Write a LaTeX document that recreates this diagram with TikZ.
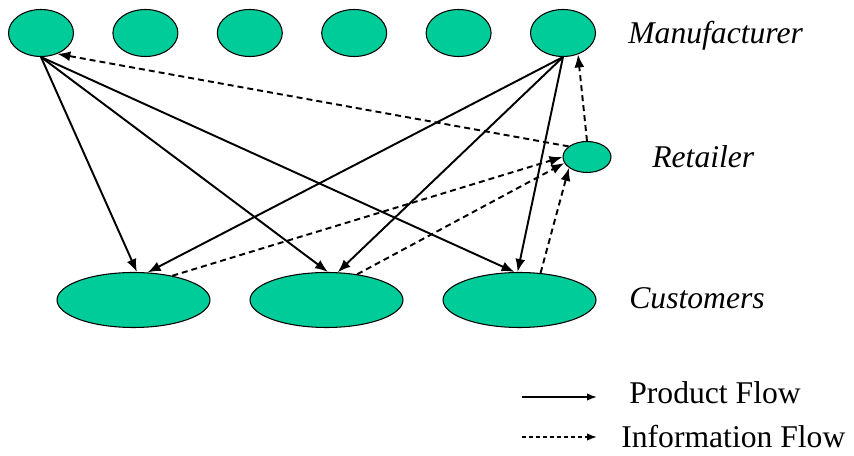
\documentclass[tikz,border=0pt]{standalone}
\usepackage{fontspec}
\setmainfont{Liberation Serif}
\usepackage{xcolor}
\definecolor{colorf}{RGB}{0,204,153}
\usepackage{tikz}
\usetikzlibrary{arrows.meta,shapes}
\tikzstyle{maker} = [ellipse, draw=black, fill=colorf, line width=0.6pt, inner sep=0pt, minimum width=1.3cm, minimum height=0.94cm]
\tikzstyle{shop} = [ellipse, draw=black, fill=colorf, line width=0.6pt, inner sep=0pt, minimum width=0.96cm, minimum height=0.62cm]
\tikzstyle{buyer} = [ellipse, draw=black, fill=colorf, line width=0.6pt, inner sep=0pt, minimum width=3.06cm, minimum height=1.1cm]
\tikzstyle{level} = [anchor=west, inner sep=0pt, font=\fontsize{18}{22}\selectfont\itshape]
\tikzstyle{legend} = [anchor=west, inner sep=0pt, font=\fontsize{18}{22}\selectfont]
\tikzstyle{product} = [-{Latex[length=2.6mm,width=2mm]}, line width=1.1pt]
\tikzstyle{info} = [-{Latex[length=2.6mm,width=2mm]}, line width=1.1pt, dash pattern=on 3.4pt off 2.3pt]

\begin{document}
\begin{tikzpicture}
    \useasboundingbox (0,0) rectangle (17.08,9.12);

    % manufacturers, retailer, customers
    \foreach \i in {1,...,6}
        \node[maker] (m\i) at ({0.82+(\i-1)*2.088},8.46) {};
    \node[shop] (r) at (11.74,5.98) {};
    \foreach \i in {1,2,3}
        \node[buyer] (c\i) at ({2.67+(\i-1)*3.86},3.12) {};

    \node[level] (lm) at (12.56,8.40) {Manufacturer};
    \node[level] (lr) at (13.04,5.98) {Retailer};
    \node[level] (lc) at (12.58,3.16) {Customers};

    % product flow
    \draw[product] (m1.south) -- (c1.83);
    \draw[product] (m1.south) -- (c2.87);
    \draw[product] (m1.south) -- (c3.100);
    \draw[product] (m6.south) -- (c1.63);
    \draw[product] (m6.south) -- (c2.68);
    \draw[product] (m6.south) -- (c3.94);

    % information flow
    \draw[info] (c1.32) -- (r.180);
    \draw[info] (c2.40) -- (r.195);
    \draw[info] (c3.52) -- (r.211);
    \draw[info] (r.150) -- (m1.-52);
    \draw[info] (r.north) -- (m6.-55);

    % legend
    \coordinate (p1) at (10.44,1.18);
    \coordinate (p2) at (11.94,1.18);
    \coordinate (i1) at (10.44,0.38);
    \coordinate (i2) at (11.94,0.38);
    \draw[-{Latex[length=2mm,width=1.5mm]}, line width=0.9pt] (p1) -- (p2);
    \draw[-{Latex[length=2mm,width=1.5mm]}, line width=0.9pt, dash pattern=on 2.4pt off 1.6pt] (i1) -- (i2);
    \node[legend] (lp) at (12.58,1.26) {Product Flow};
    \node[legend] (li) at (12.42,0.38) {Information Flow};
\end{tikzpicture}
\end{document}
